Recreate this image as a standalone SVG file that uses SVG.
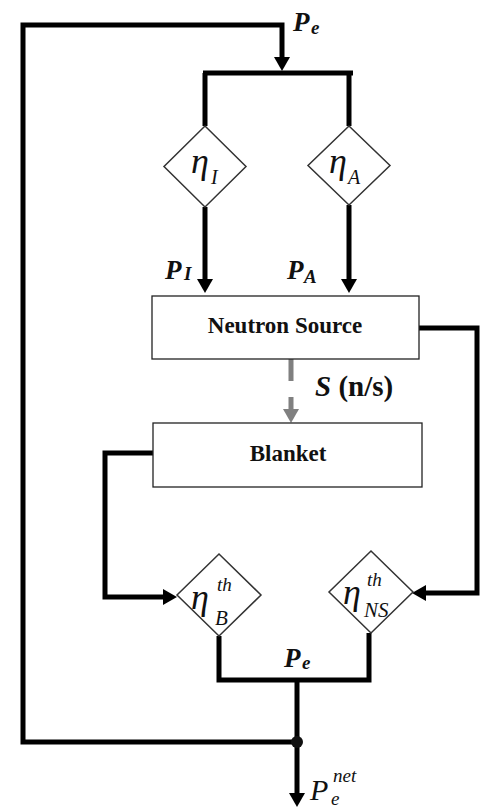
<svg xmlns="http://www.w3.org/2000/svg" width="487" height="811" viewBox="0 0 487 811">
<style>
.ln{fill:none;stroke:#000;stroke-width:5;stroke-linejoin:miter}
.gray{fill:none;stroke:#808080;stroke-width:5;stroke-dasharray:22 16}
.box{fill:#fff;stroke:#222;stroke-width:1.3}
.dia{fill:#fff;stroke:#333;stroke-width:1.5}
text{font-family:"Liberation Serif","Times New Roman",serif;fill:#111}
.bi{font-weight:bold;font-style:italic}
.b{font-weight:bold}
.i{font-style:italic}
.eta{font-style:italic;font-size:36px}
</style>
<defs>
<marker id="ah" viewBox="0 0 14 16" refX="0" refY="8" markerWidth="14" markerHeight="16" markerUnits="userSpaceOnUse" orient="auto">
<path d="M0,0 L14,8 L0,16 Z" fill="#000"/>
</marker>
<marker id="ahg" viewBox="0 0 14 16" refX="0" refY="8" markerWidth="14" markerHeight="16" markerUnits="userSpaceOnUse" orient="auto">
<path d="M0,0 L14,8 L0,16 Z" fill="#808080"/>
</marker>
</defs>
<g id="connectors">
<path class="ln" d="M297,742 H23 V25 H282 V57" marker-end="url(#ah)"/>
<path class="ln" d="M203,73 H353"/>
<path class="ln" d="M205,73 V126"/>
<path class="ln" d="M349,73 V126"/>
<path class="ln" d="M205,207 V279" marker-end="url(#ah)"/>
<path class="ln" d="M349,205 V279" marker-end="url(#ah)"/>
<path class="ln" d="M419,328 H477 V593 H426" stroke-width="6" marker-end="url(#ah)"/>
<path class="gray" d="M291,359 V409" marker-end="url(#ahg)"/>
<path class="ln" d="M153,453 H105 V597 H163" marker-end="url(#ah)"/>
<path class="ln" d="M219,636 V680 H369 V633"/>
<path class="ln" d="M297,680 V793" marker-end="url(#ah)"/>
<circle cx="297" cy="742" r="6" fill="#111"/>
</g>
<g id="eta_I">
<polygon class="dia" points="205,126 246,166.5 205,207 164,166.5"/>
<text class="eta" x="191" y="173">η</text>
<text class="i" x="211" y="184" font-size="20">I</text>
</g>
<g id="eta_A">
<polygon class="dia" points="349,126 390,165.5 349,205 308,165.5"/>
<text class="eta" x="329" y="173">η</text>
<text class="i" x="348" y="184" font-size="20">A</text>
</g>
<g id="neutron_source">
<rect class="box" x="152" y="296" width="267" height="63"/>
<text class="b" x="285" y="333" font-size="23" text-anchor="middle">Neutron Source</text>
</g>
<g id="blanket">
<rect class="box" x="153" y="423" width="269" height="64"/>
<text class="b" x="288" y="461" font-size="23" text-anchor="middle">Blanket</text>
</g>
<g id="eta_B">
<polygon class="dia" points="219,554 261,595 219,636 177,595"/>
<text class="eta" x="191" y="609">η</text>
<text class="i" x="217" y="591" font-size="19">th</text>
<text class="i" x="215" y="625" font-size="21">B</text>
</g>
<g id="eta_NS">
<polygon class="dia" points="371,551 413,592 371,633 329,592"/>
<text class="eta" x="343" y="604">η</text>
<text class="i" x="367" y="586" font-size="19">th</text>
<text class="i" x="364" y="617" font-size="21">NS</text>
</g>
<g id="labels">
<text class="bi" x="293" y="31" font-size="27">P</text>
<text class="bi" x="311" y="34" font-size="19">e</text>
<text class="bi" x="165" y="279" font-size="27">P</text>
<text class="bi" x="184" y="280" font-size="19">I</text>
<text class="bi" x="287" y="279" font-size="27">P</text>
<text class="bi" x="304" y="283" font-size="19">A</text>
<text x="315" y="396" font-size="29"><tspan class="bi">S</tspan><tspan class="b"> (n/s)</tspan></text>
<text class="bi" x="284" y="667" font-size="27">P</text>
<text class="bi" x="302" y="669" font-size="19">e</text>
<text class="i" x="310" y="800" font-size="30">P</text>
<text class="i" x="333" y="782" font-size="19">net</text>
<text class="i" x="331" y="805" font-size="19">e</text>
</g>
</svg>
